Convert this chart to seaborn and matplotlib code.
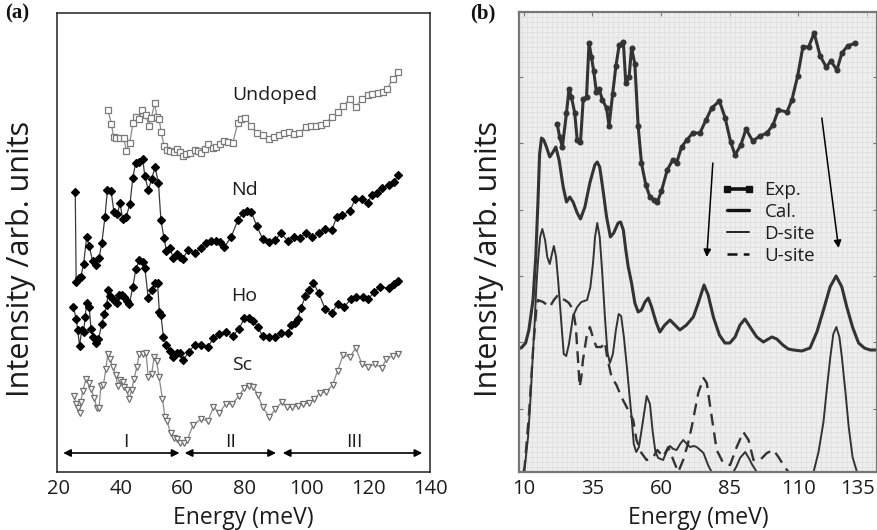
import matplotlib
matplotlib.use("Agg")
import matplotlib.pyplot as plt
import matplotlib.transforms as mtransforms
from matplotlib.lines import Line2D
from matplotlib.ticker import MultipleLocator
import seaborn as sns

# ---------------- panel (a): measured spectra ----------------
undoped_E = [35.9, 37.0, 37.7, 38.6, 39.7, 41.0, 41.8, 42.9, 44.0, 45.1, 45.9, 47.0, 48.1, 49.1, 49.9,
             51.0, 51.7, 52.4, 53.1, 54.0, 55.0, 56.0, 57.1, 58.2, 59.3, 60.1, 61.2, 62.3, 63.9, 65.0,
             66.0, 67.1, 68.2, 69.8, 70.9, 72.2, 73.5, 74.6, 76.2, 77.9, 78.9, 80.3, 82.2, 84.0, 85.9,
             88.1, 89.7, 91.3, 92.9, 94.3, 96.1, 97.7, 99.9, 101.5, 103.1, 104.7, 106.3, 108.3, 110.4,
             111.9, 114.1, 116.0, 118.0, 119.8, 121.4, 123.3, 124.8, 126.2, 127.9, 129.8]
undoped_I = [36.2, 34.8, 33.5, 33.4, 33.4, 33.4, 32.1, 32.9, 34.9, 35.5, 35.3, 36.2, 35.7, 34.6, 35.4,
             36.9, 35.5, 35.3, 34.0, 32.6, 32.2, 32.1, 32.0, 32.3, 32.0, 31.6, 31.8, 31.9, 32.2, 32.1,
             31.9, 32.3, 32.8, 32.4, 32.5, 32.8, 33.1, 33.0, 32.9, 34.9, 35.3, 35.4, 34.6, 33.9, 33.7,
             33.3, 33.5, 33.7, 33.9, 34.0, 33.8, 33.9, 34.5, 34.6, 34.6, 34.7, 34.9, 35.5, 36.0,
             36.6, 37.3, 36.5, 37.3, 37.7, 37.8, 37.9, 38.0, 38.3, 39.3, 40.0]

nd_E = [25.3, 25.6, 26.4, 27.1, 28.0, 29.0, 29.8, 30.9, 32.0, 33.0, 33.9, 34.9, 35.7, 36.9, 37.8,
        38.9, 39.8, 40.6, 41.7, 43.0, 43.9, 44.8, 46.0, 47.1, 47.8, 48.9, 50.0, 51.1, 52.2, 53.0,
        54.0, 54.8, 55.9, 57.0, 58.1, 59.1, 60.0, 61.8, 63.9, 66.0, 67.6, 69.2, 70.9, 72.2, 73.5,
        75.7, 77.9, 79.5, 80.8, 82.2, 84.0, 85.9, 88.1, 90.0, 91.8, 94.0, 96.1, 98.0, 99.9, 102.0,
        104.0, 106.1, 108.3, 109.8, 111.7, 114.1, 115.8, 118.0, 119.8, 121.2, 123.0, 124.6, 126.6,
        128.4, 129.8]
nd_I = [28.0, 19.0, 19.4, 19.5, 20.8, 23.5, 22.6, 21.1, 20.7, 21.4, 22.9, 25.5, 28.2, 28.1, 26.0,
        25.8, 26.9, 25.3, 25.5, 26.8, 29.4, 30.9, 31.0, 31.3, 29.6, 28.2, 29.3, 30.5, 28.9, 25.2,
        23.4, 22.1, 22.4, 21.4, 21.8, 21.5, 21.3, 22.2, 21.9, 22.4, 22.9, 23.1, 23.1, 23.0, 22.5,
        23.5, 25.2, 25.9, 26.1, 26.0, 24.6, 23.3, 23.0, 23.2, 23.9, 23.1, 23.5, 23.4, 23.9, 23.5,
        23.9, 24.3, 24.2, 25.5, 25.7, 26.1, 27.3, 27.3, 26.9, 27.7, 27.9, 28.4, 28.7,
        29.0, 29.7]

ho_E = [24.7, 25.6, 26.1, 26.7, 27.4, 28.0, 28.5, 29.0, 29.8, 30.4, 31.2, 31.9, 32.8, 33.9, 34.7,
        35.5, 36.0, 36.6, 37.4, 38.2, 38.9, 39.6, 40.3, 41.2, 41.9, 42.8, 43.9, 44.9, 46.0, 47.1,
        47.8, 48.9, 50.0, 51.1, 51.9, 52.5, 53.0, 53.8, 54.8, 55.9, 57.0, 58.1, 59.1, 60.2, 62.0,
        63.9, 66.0, 68.2, 70.0, 71.9, 74.1, 76.2, 78.2, 80.0, 81.6, 82.9, 84.3, 85.9, 87.9, 90.0,
        91.8, 94.0, 95.1, 96.5, 97.2, 98.3, 99.7, 100.8, 102.3, 104.0, 106.1, 108.3, 110.1, 112.3,
        114.4, 116.2, 118.2, 120.1, 121.9, 123.8, 126.6, 128.4, 129.8]
ho_I = [16.5, 15.3, 14.2, 12.6, 14.2, 14.0, 15.5, 16.9, 16.5, 14.3, 13.5, 12.9, 13.3, 14.8, 15.8,
        16.7, 18.2, 17.6, 17.3, 17.1, 16.9, 17.7, 17.7, 17.5, 17.1, 16.8, 18.5, 20.3, 21.2, 21.0,
        20.4, 17.4, 18.2, 18.9, 18.9, 16.0, 15.7, 13.5, 12.7, 12.1, 11.5, 11.9, 11.9, 11.2, 12.0,
        12.7, 12.7, 12.5, 13.4, 13.8, 14.0, 13.6, 14.3, 15.4, 15.4, 15.1, 14.5, 13.6, 13.5, 13.5,
        13.9, 13.9, 14.7, 14.9, 15.3, 16.4, 17.6, 18.2, 18.9, 17.9, 16.3, 15.9, 16.8, 16.5,
        17.3, 17.5, 17.5, 17.3, 18.0, 18.5, 18.4, 18.8, 19.1]

sc_E = [25.0, 25.5, 26.1, 26.7, 27.1, 27.7, 28.8, 29.8, 30.4, 31.4, 32.3, 33.0, 33.6, 34.4, 35.2,
        35.8, 36.6, 37.4, 38.4, 39.0, 39.8, 40.6, 41.2, 41.9, 42.8, 43.5, 44.3, 45.2, 46.0, 47.1,
        48.2, 48.9, 50.0, 50.8, 51.6, 52.4, 53.5, 54.3, 55.0, 56.1, 57.2, 58.3, 59.3, 60.4, 61.5,
        63.4, 66.0, 68.2, 70.0, 71.9, 73.9, 76.0, 78.2, 80.0, 81.6, 82.9, 84.3, 85.9, 88.1, 90.0,
        92.2, 93.7, 95.4, 97.2, 99.0, 100.8, 102.6, 104.4, 106.3, 108.5, 110.1, 111.9, 114.1, 116.0,
        118.0, 120.1, 122.3, 124.4, 125.9, 127.9, 129.8]
sc_I = [7.6, 6.8, 6.4, 5.9, 7.0, 8.1, 9.3, 8.9, 8.3, 7.4, 6.4, 6.4, 8.6, 8.7, 10.3,
        11.8, 11.3, 10.5, 9.7, 8.6, 9.2, 9.0, 8.5, 8.2, 7.3, 8.2, 9.3, 10.5, 11.8, 11.8,
        11.9, 9.5, 9.8, 11.5, 11.1, 9.5, 7.3, 5.5, 5.1, 3.9, 3.4, 3.3, 2.9, 2.9, 3.2,
        4.7, 5.3, 5.1, 6.5, 5.9, 6.8, 6.8, 7.6, 8.4, 8.6, 8.5, 7.7, 6.5, 5.5, 6.3,
        7.0, 6.5, 6.5, 6.6, 6.8, 6.9, 7.3, 7.9, 8.0, 8.7, 10.1, 11.7, 11.5, 12.4,
        10.8, 10.5, 10.8, 10.4, 11.3, 11.6, 11.8]

sample_names = ["Undoped", "Nd", "Ho", "Sc"]
sample_label_E = [89.7, 80.0, 80.0, 79.3]
sample_label_I = [37.7, 28.2, 17.6, 10.7]

region_names = ["I", "II", "III"]
region_lo = [21.4, 60.7, 92.4]
region_hi = [59.0, 90.2, 137.5]
region_text_E = [41.6, 75.4, 115.5]
region_level = 1.9
region_text_level = 3.0

a_xticks = [20, 40, 60, 80, 100, 120, 140]

# ---------------- panel (b): experiment vs. calculation ----------------
exp_E = [22.2, 23.1, 24.1, 25.6, 26.5, 27.4, 28.6, 29.5, 30.7, 31.7, 32.9, 33.8, 34.7, 35.5, 36.5,
         37.5, 38.7, 40.2, 41.1, 42.4, 43.6, 44.8, 46.3, 47.2, 48.4, 49.3, 50.5, 51.7, 52.9, 54.5,
         56.0, 57.4, 58.7, 60.2, 62.3, 64.3, 65.7, 67.5, 69.4, 71.6, 74.2, 76.4, 78.5, 81.3, 83.4,
         85.4, 87.0, 89.1, 91.0, 93.4, 96.1, 98.6, 100.8, 102.8, 105.9, 107.7, 109.8, 111.7, 113.8,
         115.8, 118.0, 120.2, 121.9, 124.1, 125.9, 128.0, 130.8]
exp_I = [34.8, 33.5, 32.5, 35.9, 38.3, 37.5, 35.9, 33.2, 33.0, 37.3, 37.5, 42.9, 41.5, 40.1, 38.0,
         38.3, 37.2, 36.4, 34.6, 37.8, 40.6, 42.7, 43.0, 38.9, 39.5, 42.4, 40.8, 34.6, 30.9, 28.7,
         27.5, 27.2, 27.0, 28.1, 30.2, 31.2, 30.9, 32.5, 33.2, 33.9, 33.9, 35.2, 36.4, 37.1, 35.4,
         33.0, 31.7, 32.7, 34.3, 33.1, 33.6, 33.9, 34.7, 36.2, 36.0, 37.2, 39.6, 42.5, 42.5,
         43.9, 41.6, 40.5, 41.1, 40.2, 41.9, 42.6, 42.9]

cal_E = [8.3, 9.1, 10.7, 11.9, 13.4, 14.4, 15.2, 15.8, 16.5, 17.3, 18.3, 19.5, 20.7, 21.7, 22.9,
         24.4, 25.6, 26.8, 28.0, 29.5, 30.7, 32.3, 34.1, 35.9, 36.8, 37.7, 38.9, 40.2, 41.6, 42.8,
         44.4, 45.3, 46.3, 47.2, 48.1, 49.3, 50.5, 51.7, 52.9, 54.2, 55.4, 56.6, 58.2, 59.6, 61.4,
         63.3, 65.1, 66.9, 69.3, 71.8, 73.6, 75.7, 77.2, 79.1, 81.3, 83.3, 85.1, 87.0, 88.8, 90.6,
         92.7, 94.9, 97.3, 100.4, 102.2, 104.4, 106.4, 108.3, 111.3, 114.3, 116.8, 119.2, 121.6, 123.8,
         125.9, 127.7, 129.9, 132.0, 134.1, 136.2, 138.7]
cal_I = [12.4, 12.4, 12.9, 14.2, 17.2, 21.5, 27.0, 31.8, 33.4, 33.2, 32.5, 31.5, 32.0, 32.5, 31.2,
         28.5, 27.0, 27.5, 27.0, 25.9, 25.3, 26.5, 28.9, 30.7, 31.0, 30.5, 28.2, 25.5, 23.5, 23.9,
         24.9, 25.0, 24.2, 22.2, 20.5, 18.9, 16.9, 16.0, 16.2, 17.0, 17.4, 16.5, 15.0, 14.0, 14.7,
         15.2, 14.7, 14.2, 14.7, 15.5, 16.9, 18.7, 17.7, 15.5, 13.7, 12.9, 12.9, 13.5, 14.7, 15.3,
         14.4, 13.5, 13.0, 13.5, 13.3, 12.7, 12.3, 12.2, 12.1, 12.4, 14.0, 16.2, 18.5, 19.6,
         18.5, 16.5, 14.4, 12.9, 12.4, 12.2, 12.2]

dsite_E = [9.8, 10.4, 11.6, 12.2, 12.8, 13.4, 14.0, 14.6, 15.2, 16.0, 16.8, 17.8, 18.6, 19.5, 20.3,
           21.0, 21.8, 22.6, 23.7, 24.6, 25.5, 26.5, 28.0, 29.5, 31.0, 33.1, 34.3, 35.3, 36.0, 36.8,
           37.7, 38.6, 39.6, 40.5, 41.4, 42.5, 43.6, 44.6, 45.5, 46.5, 47.6, 48.5, 49.3, 50.1, 51.0,
           52.0, 53.5, 54.8, 56.0, 57.0, 58.0, 59.0, 60.8, 62.0, 63.3, 64.5, 65.7, 67.0, 68.1, 69.5,
           70.6, 72.0, 73.0, 74.3, 75.5, 77.3, 78.5, 86.4, 87.6, 88.8, 90.7, 92.0, 93.1, 94.9, 115.6,
           117.4, 119.2, 120.5, 121.7, 122.8, 123.9, 125.0, 125.9, 127.2, 128.4, 129.8, 131.4]
dsite_I = [0.0, 0.5, 3.5, 6.0, 8.9, 12.0, 14.9, 18.5, 21.0, 23.5, 24.3, 23.2, 21.5, 20.8, 21.8,
           22.6, 21.5, 19.0, 15.0, 11.8, 11.6, 12.8, 15.6, 16.5, 17.0, 17.2, 18.5, 21.0, 23.5, 24.9,
           23.5, 20.0, 15.5, 12.0, 10.9, 11.8, 14.2, 15.8, 15.6, 13.5, 10.5, 7.8, 5.5, 2.8, 2.0,
           2.5, 5.2, 7.6, 6.8, 4.0, 2.0, 1.4, 1.2, 2.0, 2.6, 2.3, 2.2, 2.8, 3.2, 2.8,
           2.5, 2.6, 2.5, 2.2, 1.9, 0.6, 0.0, 0.0, 0.6, 1.4, 2.0, 1.4, 0.8, 0.0, 0.0,
           2.0, 5.0, 8.5, 11.5, 13.8, 14.5, 13.5, 11.5, 8.0, 4.5, 1.5, 0.0]

usite_E = [10.2, 12.0, 13.5, 14.6, 15.2, 17.1, 19.5, 21.0, 22.5, 24.0, 25.0, 26.5, 28.0, 29.0, 29.8,
           30.4, 31.0, 31.6, 32.9, 34.1, 35.3, 36.5, 38.3, 39.6, 40.4, 42.0, 43.8, 45.6, 47.5, 49.9,
           51.1, 52.9, 54.8, 57.0, 58.7, 60.8, 62.7, 64.5, 66.3, 68.1, 69.8, 71.2, 73.6, 75.5, 76.7,
           78.5, 80.3, 82.7, 85.2, 87.6, 90.0, 91.9, 93.7, 96.1, 98.6, 101.0, 102.8, 105.3, 106.5]
usite_I = [0.0, 6.0, 12.5, 16.3, 17.2, 17.0, 16.5, 17.2, 17.7, 17.3, 17.2, 16.9, 16.2, 14.5, 11.2,
           8.5, 9.5, 11.2, 13.5, 14.5, 13.4, 12.5, 12.5, 13.0, 11.5, 9.5, 8.7, 7.5, 6.5, 5.2,
           3.2, 1.9, 1.2, 1.4, 2.2, 1.5, 2.5, 1.2, 0.0, 1.2, 2.8, 4.5, 7.9, 9.4, 8.9,
           5.5, 2.2, 0.9, 0.7, 2.5, 4.0, 3.2, 1.2, 1.2, 1.9, 2.2, 1.5, 0.4, 0.0]

arrow_from_E = [78.9, 118.6]
arrow_from_I = [30.9, 35.4]
arrow_to_E = [76.7, 124.7]
arrow_to_I = [21.5, 22.4]

b_xticks = [10, 35, 60, 85, 110, 135]
legend_names = ["Exp.", "Cal.", "D-site", "U-site"]

# ---------------- styling ----------------
sns.set_theme(style="white")
plt.rcParams["font.family"] = ["Open Sans", "DejaVu Sans"]
TXT = "#1c1c1c"
XLBL = 16.5
YLBL = 22
TICK = 14.5

fig = plt.figure(figsize=(8.78, 5.30), dpi=100)
axa = fig.add_axes([57 / 878, 58 / 530, 373 / 878, 459 / 530])
axb = fig.add_axes([519 / 878, 58 / 530, 358 / 878, 460 / 530])


def trace(ax, E, I, marker, face, edge, size, line):
    sns.lineplot(x=E, y=I, ax=ax, estimator=None, sort=False, color=line, lw=0.9,
                 marker=marker, markersize=size, markerfacecolor=face,
                 markeredgecolor=edge, markeredgewidth=0.9)


# panel (a)
trace(axa, undoped_E, undoped_I, "s", "white", "#7a7a7a", 4.2, "#8a8a8a")
trace(axa, nd_E, nd_I, "D", "black", "black", 3.6, "#3a3a3a")
trace(axa, ho_E, ho_I, "D", "black", "black", 3.6, "#3a3a3a")
trace(axa, sc_E, sc_I, "v", "white", "#6f6f6f", 4.6, "#8a8a8a")

for name, x, y in zip(sample_names, sample_label_E, sample_label_I):
    axa.text(x, y, name, fontsize=14, color=TXT, ha="center", va="center")

for name, lo, hi, xt in zip(region_names, region_lo, region_hi, region_text_E):
    axa.annotate("", xy=(hi, region_level), xytext=(lo, region_level),
                 arrowprops=dict(arrowstyle="<|-|>", color="black", lw=1.2,
                                 mutation_scale=11, shrinkA=0, shrinkB=0))
    axa.text(xt, region_text_level, name, fontsize=14, color=TXT,
             ha="center", va="center")

axa.set_xlim(19.4, 140)
axa.set_ylim(0, 45.9)
axa.set_xticks(a_xticks)
axa.set_yticks([])
axa.tick_params(axis="x", length=0, pad=5, labelsize=TICK, labelcolor=TXT)
for s in axa.spines.values():
    s.set_color("#222222")
    s.set_linewidth(1.1)
axa.set_xlabel("Energy (meV)", fontsize=XLBL, color=TXT)
axa.set_ylabel("Intensity /arb. units", fontsize=YLBL, color=TXT)
axa.xaxis.set_label_coords(0.5, -0.075)
axa.yaxis.set_label_coords(-0.056, 0.464)

# panel (b)
axb.set_facecolor("#eeeeee")
axb.xaxis.set_minor_locator(MultipleLocator(1.85))
axb.yaxis.set_minor_locator(MultipleLocator(0.5))
axb.grid(which="minor", color="#dcdcdc", lw=0.45)
axb.grid(which="major", visible=False)
axb.set_axisbelow(True)

DARK = "#333333"
sns.lineplot(x=exp_E, y=exp_I, ax=axb, estimator=None, sort=False, color=DARK, lw=2.2,
             marker="o", markersize=3.6, markerfacecolor=DARK, markeredgecolor=DARK)
sns.lineplot(x=cal_E, y=cal_I, ax=axb, estimator=None, sort=False, color=DARK, lw=2.2)
sns.lineplot(x=dsite_E, y=dsite_I, ax=axb, estimator=None, sort=False, color=DARK, lw=1.4)
sns.lineplot(x=usite_E, y=usite_I, ax=axb, estimator=None, sort=False, color=DARK, lw=1.7,
             dashes=False, linestyle=(0, (5, 3)))

for x0, y0, x1, y1 in zip(arrow_from_E, arrow_from_I, arrow_to_E, arrow_to_I):
    axb.annotate("", xy=(x1, y1), xytext=(x0, y0),
                 arrowprops=dict(arrowstyle="-|>", color="black", lw=1.1,
                                 mutation_scale=11, shrinkA=0, shrinkB=0))

handles = [
    Line2D([], [], color="#111111", lw=2.6, marker="s", markersize=4, markerfacecolor="#111111"),
    Line2D([], [], color="#111111", lw=2.4),
    Line2D([], [], color="#222222", lw=1.4),
    Line2D([], [], color="#111111", lw=1.8, linestyle=(0, (4, 2.5))),
]
axb.legend(handles, legend_names, loc="upper left", bbox_to_anchor=(0.565, 0.632),
           frameon=False, fontsize=13.5, numpoints=2, handlelength=1.8,
           handletextpad=0.5, labelspacing=0.2, borderpad=0, borderaxespad=0,
           labelcolor=TXT)

axb.set_xlim(8.3, 138.7)
axb.set_ylim(0, 46.0)
axb.set_xticks(b_xticks)
axb.set_yticks([6.3, 13.0, 19.6, 26.2, 32.9, 39.5])
axb.set_yticklabels([])
axb.tick_params(axis="both", which="major", direction="in", length=3, width=0.8,
                color="#777777", top=True, right=True, left=True, bottom=False)
axb.tick_params(axis="both", which="minor", length=0)
axb.tick_params(axis="x", pad=5, labelsize=TICK, labelcolor=TXT)
for s in axb.spines.values():
    s.set_color("#777777")
    s.set_linewidth(1.6)
axb.set_xlabel("Energy (meV)", fontsize=XLBL, color=TXT)
axb.set_ylabel("Intensity /arb. units", fontsize=YLBL, color=TXT)
axb.xaxis.set_label_coords(0.5, -0.075)
axb.yaxis.set_label_coords(-0.042, 0.463)

# keep the last tick label of panel (b) inside the canvas
fig.canvas.draw()
last = axb.get_xticklabels()[-1]
last.set_transform(last.get_transform() +
                   mtransforms.ScaledTranslation(-9 / 100, 0, fig.dpi_scale_trans))

fig.text(5 / 878, 1 - 3 / 530, "(a)", family=["Liberation Serif", "DejaVu Serif"],
         fontweight="bold", fontsize=15, va="top", ha="left", color="#111111")
fig.text(470 / 878, 1 - 3 / 530, "(b)", family=["Liberation Serif", "DejaVu Serif"],
         fontweight="bold", fontsize=15, va="top", ha="left", color="#111111")

fig.savefig("out.png", dpi=100)
